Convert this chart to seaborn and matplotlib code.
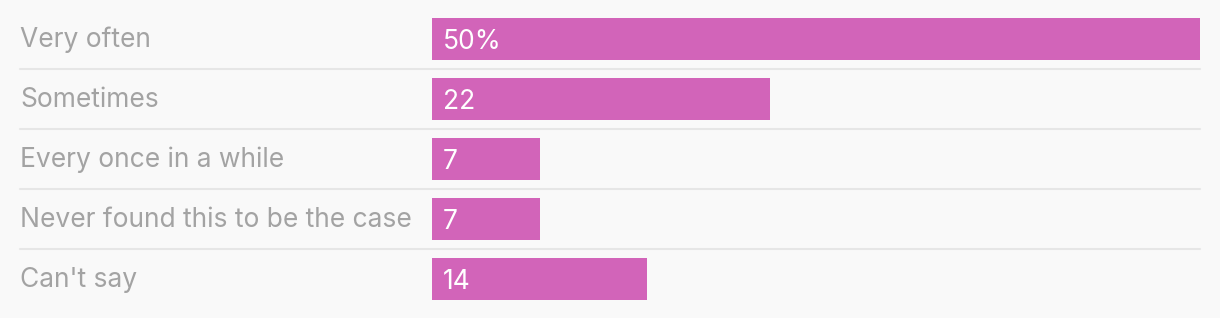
import matplotlib
matplotlib.use("Agg")
import matplotlib.pyplot as plt
import matplotlib.transforms as mtransforms
import seaborn as sns
import pandas as pd

categories = ["Very often", "Sometimes", "Every once in a while",
              "Never found this to be the case", "Can't say"]
values = [50, 22, 7, 7, 14]
value_labels = ["50%", "22", "7", "7", "14"]

BG = "#f9f9f9"
BAR = "#d264b9"
LABEL = "#a3a3a3"
GRID = "#e6e6e6"

sns.set_theme(style="white")
plt.rcParams["font.family"] = ["Inter", "DejaVu Sans"]

W, H = 1220, 318
fig = plt.figure(figsize=(W / 100, H / 100), dpi=100, facecolor=BG)
x0, x1 = 432, 1200
ax = fig.add_axes([x0 / W, 0, (x1 - x0) / W, 1])
ax.set_facecolor(BG)
ax.patch.set_alpha(0)

df = pd.DataFrame({"cat": categories, "val": values})
sns.barplot(data=df, x="val", y="cat", orient="h", color=BAR, width=0.7,
            saturation=1, ax=ax, edgecolor="none")

ax.set_xlim(0, 50)
ax.set_ylim((H - 39) / 60, -39 / 60)
ax.set_xlabel("")
ax.set_ylabel("")
ax.set_xticks([])
ax.set_yticks([])
for s in ax.spines.values():
    s.set_visible(False)

lbl_tr = mtransforms.blended_transform_factory(fig.transFigure, ax.transData)
line_tr = lbl_tr
for i, (c, v, t) in enumerate(zip(categories, values, value_labels)):
    ax.text(20 / W, i - 0.04, c, transform=lbl_tr, color=LABEL, fontsize=19,
            ha="left", va="center_baseline")
    ax.text(0.72, i, t, color="white", fontsize=19, ha="left",
            va="center_baseline")
    if i < len(categories) - 1:
        ax.plot([20 / W, x1 / W], [i + 0.5, i + 0.5], transform=line_tr,
                color=GRID, lw=1.5, clip_on=False, zorder=0)

fig.savefig("out.png", dpi=100, facecolor=BG)
